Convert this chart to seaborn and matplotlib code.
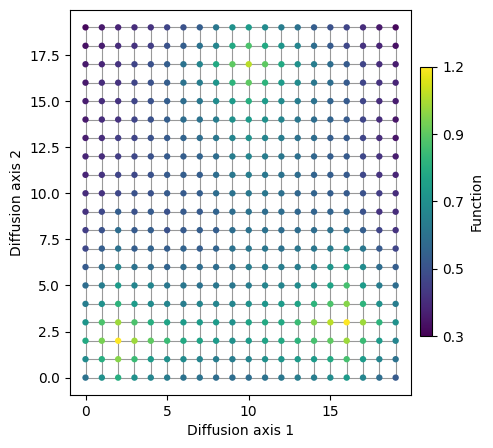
import numpy as np
import pandas as pd
import matplotlib
matplotlib.use("Agg")
import matplotlib.pyplot as plt
import seaborn as sns

# grid of 20 x 20 nodes, function value per node (rows = axis 2, cols = axis 1)
axis1 = list(range(20))
axis2 = list(range(20))

row00 = [0.61, 0.72, 0.83, 0.72, 0.68, 0.65, 0.61, 0.61, 0.59, 0.59, 0.59, 0.61, 0.63, 0.65, 0.65, 0.70, 0.76, 0.68, 0.59, 0.53]
row01 = [0.70, 0.83, 1.00, 0.88, 0.76, 0.72, 0.70, 0.68, 0.65, 0.65, 0.68, 0.72, 0.74, 0.76, 0.76, 0.81, 0.90, 0.76, 0.68, 0.61]
row02 = [0.81, 0.98, 1.16, 1.03, 0.94, 0.88, 0.81, 0.79, 0.76, 0.72, 0.76, 0.79, 0.81, 0.85, 0.90, 0.94, 1.03, 0.88, 0.76, 0.68]
row03 = [0.74, 0.91, 1.03, 0.91, 0.83, 0.79, 0.76, 0.76, 0.76, 0.72, 0.79, 0.81, 0.81, 0.88, 1.00, 1.07, 1.16, 1.03, 0.85, 0.72]
row04 = [0.65, 0.72, 0.85, 0.76, 0.70, 0.68, 0.65, 0.68, 0.68, 0.68, 0.72, 0.74, 0.76, 0.79, 0.85, 0.91, 1.00, 0.85, 0.72, 0.65]
row05 = [0.59, 0.65, 0.76, 0.68, 0.68, 0.63, 0.63, 0.61, 0.63, 0.63, 0.65, 0.68, 0.68, 0.70, 0.72, 0.79, 0.90, 0.76, 0.65, 0.59]
row06 = [0.53, 0.59, 0.68, 0.61, 0.59, 0.56, 0.59, 0.59, 0.59, 0.61, 0.65, 0.65, 0.65, 0.65, 0.68, 0.74, 0.79, 0.70, 0.59, 0.54]
row07 = [0.47, 0.54, 0.61, 0.54, 0.56, 0.54, 0.56, 0.54, 0.56, 0.61, 0.63, 0.63, 0.61, 0.63, 0.63, 0.65, 0.70, 0.63, 0.53, 0.46]
row08 = [0.44, 0.50, 0.59, 0.53, 0.54, 0.50, 0.53, 0.54, 0.54, 0.59, 0.61, 0.61, 0.59, 0.59, 0.59, 0.61, 0.59, 0.54, 0.46, 0.41]
row09 = [0.41, 0.47, 0.54, 0.50, 0.53, 0.50, 0.53, 0.53, 0.56, 0.59, 0.61, 0.59, 0.59, 0.57, 0.56, 0.56, 0.56, 0.50, 0.41, 0.39]
row10 = [0.39, 0.41, 0.47, 0.50, 0.50, 0.53, 0.53, 0.54, 0.59, 0.61, 0.63, 0.63, 0.60, 0.57, 0.56, 0.54, 0.53, 0.50, 0.44, 0.39]
row11 = [0.37, 0.41, 0.46, 0.47, 0.50, 0.53, 0.54, 0.54, 0.59, 0.63, 0.65, 0.63, 0.61, 0.59, 0.56, 0.54, 0.53, 0.47, 0.41, 0.37]
row12 = [0.37, 0.39, 0.44, 0.47, 0.50, 0.53, 0.54, 0.56, 0.59, 0.65, 0.68, 0.65, 0.63, 0.60, 0.57, 0.54, 0.53, 0.47, 0.41, 0.35]
row13 = [0.35, 0.39, 0.44, 0.46, 0.50, 0.53, 0.56, 0.59, 0.63, 0.68, 0.72, 0.68, 0.65, 0.61, 0.59, 0.54, 0.53, 0.46, 0.39, 0.33]
row14 = [0.34, 0.39, 0.41, 0.46, 0.50, 0.54, 0.59, 0.61, 0.65, 0.72, 0.76, 0.72, 0.68, 0.63, 0.59, 0.56, 0.53, 0.46, 0.39, 0.33]
row15 = [0.35, 0.39, 0.41, 0.46, 0.50, 0.54, 0.59, 0.63, 0.70, 0.76, 0.83, 0.76, 0.70, 0.65, 0.61, 0.56, 0.53, 0.46, 0.39, 0.35]
row16 = [0.34, 0.39, 0.41, 0.46, 0.50, 0.54, 0.61, 0.65, 0.74, 0.85, 0.94, 0.85, 0.76, 0.70, 0.63, 0.59, 0.53, 0.46, 0.41, 0.37]
row17 = [0.34, 0.37, 0.41, 0.46, 0.50, 0.54, 0.61, 0.68, 0.81, 0.94, 1.07, 0.94, 0.81, 0.72, 0.65, 0.59, 0.53, 0.46, 0.39, 0.35]
row18 = [0.32, 0.35, 0.39, 0.41, 0.44, 0.50, 0.54, 0.61, 0.68, 0.81, 0.91, 0.81, 0.74, 0.68, 0.59, 0.53, 0.47, 0.41, 0.37, 0.32]
row19 = [0.30, 0.34, 0.37, 0.39, 0.41, 0.46, 0.50, 0.54, 0.63, 0.72, 0.76, 0.70, 0.65, 0.61, 0.54, 0.50, 0.46, 0.39, 0.34, 0.30]

rows = [row00, row01, row02, row03, row04, row05, row06, row07, row08, row09,
        row10, row11, row12, row13, row14, row15, row16, row17, row18, row19]

cbar_ticklabels = ["0.3", "0.5", "0.7", "0.9", "1.2"]
vmin, vmax = 0.28, 1.16

records = []
for j, row in zip(axis2, rows):
    for i, v in zip(axis1, row):
        records.append({"x": i, "y": j, "value": v})
df = pd.DataFrame(records)

fig = plt.figure(figsize=(4.93, 4.48), dpi=100)
ax = fig.add_axes([0.142, 0.118, 0.692, 0.860])
cax = fig.add_axes([0.852, 0.25, 0.025, 0.601])

# grid edges
for j in axis2:
    ax.plot(axis1, [j] * len(axis1), color="#999999", lw=0.8, zorder=1)
for i in axis1:
    ax.plot([i] * len(axis2), axis2, color="#999999", lw=0.8, zorder=1)

sns.scatterplot(data=df, x="x", y="y", hue="value", palette="viridis",
                hue_norm=(vmin, vmax), legend=False, s=21, linewidth=0,
                zorder=3, ax=ax)
ax.set_xlabel("Diffusion axis 1")
ax.set_ylabel("Diffusion axis 2")
ax.set_xticks([0, 5, 10, 15])
ax.set_yticks(np.arange(0, 20, 2.5))

sm = plt.cm.ScalarMappable(cmap="viridis", norm=plt.Normalize(vmin, vmax))
cb = fig.colorbar(sm, cax=cax)
cb.set_ticks(np.linspace(vmin, vmax, 5))
cb.set_ticklabels(cbar_ticklabels)
cb.set_label("Function")
cb.outline.set_linewidth(0.8)

fig.savefig("out.png", dpi=100)
